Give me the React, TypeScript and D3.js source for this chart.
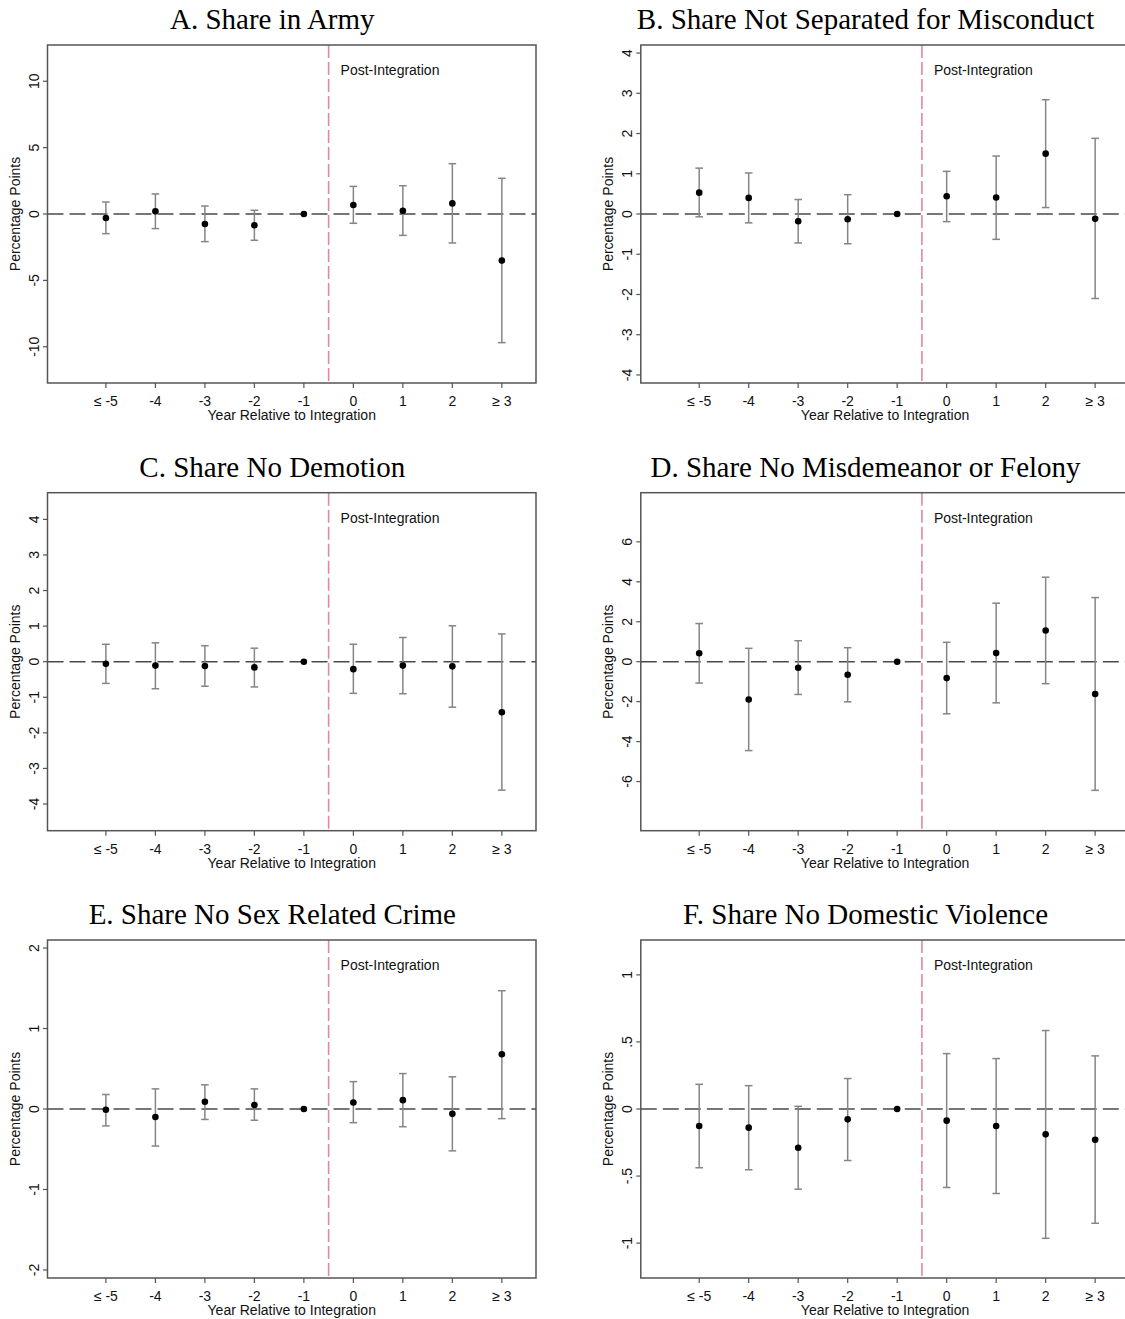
import React from "react";
import * as d3 from "d3";

const categories = ["≤ -5", "-4", "-3", "-2", "-1", "0", "1", "2", "≥ 3"];
const years = [-5, -4, -3, -2, -1, 0, 1, 2, 3];

// A. Share in Army
const armyEst = [-0.3, 0.2, -0.75, -0.85, 0, 0.68, 0.25, 0.8, -3.51];
const armyLo = [-1.48, -1.1, -2.08, -1.98, null, -0.7, -1.61, -2.18, -9.69];
const armyHi = [0.9, 1.51, 0.6, 0.28, null, 2.08, 2.13, 3.79, 2.69];

// B. Share Not Separated for Misconduct
const sepEst = [0.53, 0.4, -0.18, -0.13, 0, 0.44, 0.41, 1.5, -0.12];
const sepLo = [-0.07, -0.22, -0.72, -0.74, null, -0.19, -0.63, 0.16, -2.1];
const sepHi = [1.14, 1.02, 0.36, 0.48, null, 1.06, 1.44, 2.84, 1.88];

// C. Share No Demotion
const demEst = [-0.06, -0.11, -0.12, -0.16, 0, -0.21, -0.11, -0.13, -1.42];
const demLo = [-0.61, -0.76, -0.69, -0.71, null, -0.89, -0.9, -1.28, -3.61];
const demHi = [0.49, 0.53, 0.45, 0.38, null, 0.49, 0.68, 1.01, 0.78];

// D. Share No Misdemeanor or Felony
const misEst = [0.42, -1.89, -0.3, -0.65, 0, -0.82, 0.43, 1.56, -1.62];
const misLo = [-1.07, -4.45, -1.64, -2.01, null, -2.61, -2.06, -1.1, -6.44];
const misHi = [1.91, 0.67, 1.05, 0.7, null, 0.97, 2.93, 4.23, 3.21];

// E. Share No Sex Related Crime
const sexEst = [-0.01, -0.1, 0.09, 0.05, 0, 0.08, 0.11, -0.06, 0.68];
const sexLo = [-0.21, -0.46, -0.13, -0.14, null, -0.17, -0.22, -0.52, -0.12];
const sexHi = [0.18, 0.25, 0.3, 0.25, null, 0.34, 0.44, 0.4, 1.47];

// F. Share No Domestic Violence
const dvEst = [-0.127, -0.139, -0.289, -0.077, 0, -0.087, -0.127, -0.189, -0.229];
const dvLo = [-0.438, -0.453, -0.598, -0.384, null, -0.585, -0.63, -0.964, -0.852];
const dvHi = [0.184, 0.174, 0.02, 0.227, null, 0.413, 0.376, 0.585, 0.396];

const titles = [
  "A. Share in Army",
  "B. Share Not Separated for Misconduct",
  "C. Share No Demotion",
  "D. Share No Misdemeanor or Felony",
  "E. Share No Sex Related Crime",
  "F. Share No Domestic Violence",
];
const yLimits = [12.73, 4.2, 4.75, 8.46, 2.1, 1.26];
const yTickSets = [
  [-10, -5, 0, 5, 10],
  [-4, -3, -2, -1, 0, 1, 2, 3, 4],
  [-4, -3, -2, -1, 0, 1, 2, 3, 4],
  [-6, -4, -2, 0, 2, 4, 6],
  [-2, -1, 0, 1, 2],
  [-1, -0.5, 0, 0.5, 1],
];
const panelData = [
  [armyEst, armyLo, armyHi],
  [sepEst, sepLo, sepHi],
  [demEst, demLo, demHi],
  [misEst, misLo, misHi],
  [sexEst, sexLo, sexHi],
  [dvEst, dvLo, dvHi],
];

const W = 1125;
const H = 1319;
const SANS = "'Liberation Sans', Arial, Helvetica, sans-serif";
const SERIF = "'Liberation Serif', 'Times New Roman', serif";

const fmtTick = (v: number) => {
  if (Number.isInteger(v)) return String(v);
  const s = String(v);
  return s.replace(/^(-?)0\./, "$1.");
};

function Panel({ idx, ox, oy }: { idx: number; ox: number; oy: number }) {
  const left = 47.5;
  const right = 536;
  const top = 45;
  const bottom = 383;
  const x = d3.scaleLinear().domain([-6.18, 3.69]).range([left, right]);
  const lim = yLimits[idx];
  const y = d3.scaleLinear().domain([-lim, lim]).range([bottom, top]);
  const [est, lo, hi] = panelData[idx];
  const cx = (left + right) / 2;
  return (
    <g transform={`translate(${ox},${oy})`}>
      <text x={cx - 19.5} y={29} textAnchor="middle" fontFamily={SERIF} fontSize={29} fill="#000">
        {titles[idx]}
      </text>
      {/* zero line */}
      <line x1={left} x2={right} y1={y(0)} y2={y(0)} stroke="#4a4a4a" strokeWidth={1.5} strokeDasharray="16,6" />
      {/* integration line */}
      <line x1={x(-0.5)} x2={x(-0.5)} y1={top} y2={bottom} stroke="#e0889f" strokeWidth={1.6} strokeDasharray="13,4" />
      <text x={x(-0.5) + 12} y={top + 30} fontFamily={SANS} fontSize={14} fill="#111">
        Post-Integration
      </text>
      {/* error bars */}
      {years.map((yr, i) => {
        const l = lo[i];
        const h = hi[i];
        if (l === null || h === null) return null;
        const px = x(yr);
        return (
          <g key={"ci" + i} stroke="#858585" strokeWidth={1.5}>
            <line x1={px} x2={px} y1={y(l as number)} y2={y(h as number)} />
            <line x1={px - 3.8} x2={px + 3.8} y1={y(l as number)} y2={y(l as number)} />
            <line x1={px - 3.8} x2={px + 3.8} y1={y(h as number)} y2={y(h as number)} />
          </g>
        );
      })}
      {/* points */}
      {years.map((yr, i) => (
        <circle key={"pt" + i} cx={x(yr)} cy={y(est[i] as number)} r={3.3} fill="#000" />
      ))}
      {/* frame */}
      <rect x={left} y={top} width={right - left} height={bottom - top} fill="none" stroke="#555" strokeWidth={1.5} />
      {/* y ticks */}
      {yTickSets[idx].map((t) => (
        <g key={"yt" + t}>
          <line x1={left - 4.5} x2={left} y1={y(t)} y2={y(t)} stroke="#555" strokeWidth={1.2} />
          <text
            transform={`translate(${left - 9},${y(t)}) rotate(-90)`}
            textAnchor="middle"
            fontFamily={SANS}
            fontSize={14}
            fill="#111"
          >
            {fmtTick(t)}
          </text>
        </g>
      ))}
      <text
        transform={`translate(${20},${(top + bottom) / 2}) rotate(-90)`}
        textAnchor="middle"
        fontFamily={SANS}
        fontSize={14}
        fill="#111"
      >
        Percentage Points
      </text>
      {/* x ticks */}
      {years.map((yr, i) => (
        <g key={"xt" + i}>
          <line x1={x(yr)} x2={x(yr)} y1={bottom} y2={bottom + 5} stroke="#555" strokeWidth={1.2} />
          <text x={x(yr)} y={bottom + 23} textAnchor="middle" fontFamily={SANS} fontSize={14} fill="#111">
            {categories[i]}
          </text>
        </g>
      ))}
      <text x={cx} y={bottom + 37} textAnchor="middle" fontFamily={SANS} fontSize={14} fill="#111">
        Year Relative to Integration
      </text>
    </g>
  );
}

export default function App() {
  const colX = [0, 593.3];
  const rowY = [0, 447.7, 895];
  return (
    <svg
      width={W}
      height={H}
      viewBox={`0 0 ${W} ${H}`}
      style={{ position: "absolute", left: 0, top: 0, background: "#fff", display: "block" }}
    >
      <rect x={0} y={0} width={W} height={H} fill="#fff" />
      {titles.map((_, i) => (
        <Panel key={i} idx={i} ox={colX[i % 2]} oy={rowY[Math.floor(i / 2)]} />
      ))}
    </svg>
  );
}
